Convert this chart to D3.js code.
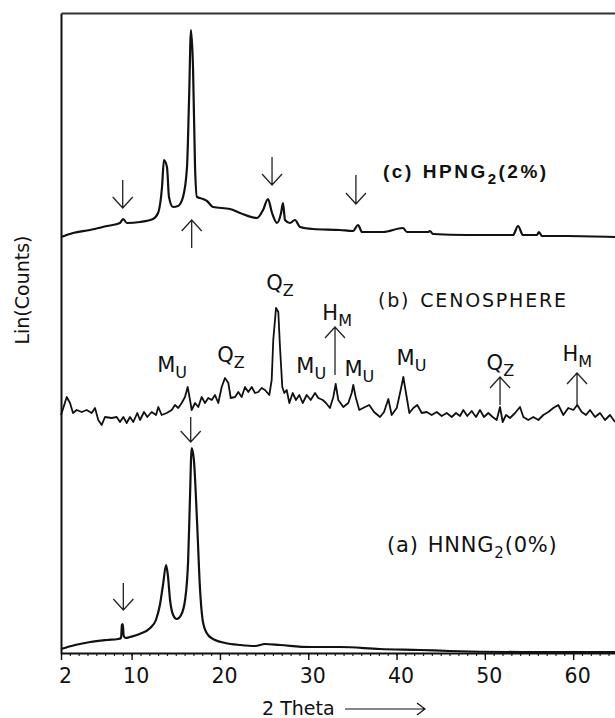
<!DOCTYPE html>
<html>
<head>
<meta charset="utf-8">
<script src="https://cdn.jsdelivr.net/npm/d3@7"></script>
<style>
  body { margin: 0; background: #fff; }
  svg { display: block; }
</style>
</head>
<body>
<div id="xrd"></div>
<script>
// 2 theta axis ticks
const majorTicks = [2, 10, 20, 30, 40, 50, 60];

// (a) HNNG2 (0%) - [2theta, counts]
const traceA = [
  [2.0, 4], [3.6, 8], [5.3, 11], [7.2, 13], [8.45, 14], [8.8, 15], [8.9, 28], [9.0, 29], [9.1, 17],
  [9.35, 15], [9.8, 16], [10.9, 19], [12.1, 25], [12.75, 33], [13.2, 48], [13.55, 68], [13.9, 88],
  [14.1, 78], [14.35, 53], [14.7, 38], [15.1, 34], [15.6, 38], [16.05, 53], [16.4, 93], [16.6, 153],
  [16.8, 205], [17.05, 193], [17.4, 133], [17.75, 63], [18.1, 30], [18.65, 18], [19.45, 13],
  [20.6, 10], [22.3, 8], [24.0, 7], [25.1, 9], [26.8, 8], [30.2, 6], [33.6, 6], [38.1, 4],
  [42.7, 3], [46.0, 2], [54, 1], [64.74, 1]
];

// (b) CENOSPHERE
const traceB = [
  [2.0, 8], [2.26, 15], [2.65, 26], [3.02, 20], [3.36, 10], [3.78, 13], [4.34, 11], [4.91, 13],
  [5.48, 10], [5.85, 15], [6.22, 3], [6.61, -2], [6.98, 6], [7.74, 5], [8.31, 6], [8.68, 1],
  [9.06, 6], [9.44, 0], [9.81, 6], [10.19, 1], [10.64, 10], [10.95, 3], [11.4, 11], [11.77, 6],
  [12.27, 11], [12.76, 8], [13.02, 16], [13.4, 8], [13.97, 10], [14.54, 13], [14.91, 18],
  [15.28, 15], [15.67, 20], [16.04, 26], [16.35, 36], [16.61, 23], [16.8, 13], [17.18, 20],
  [17.55, 16], [17.93, 26], [18.31, 20], [18.68, 25], [19.07, 23], [19.44, 28], [19.81, 20],
  [20.2, 36], [20.57, 45], [20.95, 40], [21.22, 25], [21.71, 26], [22.08, 31], [22.46, 26],
  [22.84, 36], [23.21, 31], [23.6, 36], [23.97, 30], [24.34, 31], [24.73, 35], [25.1, 33],
  [25.59, 28], [25.86, 43], [26.04, 83], [26.35, 115], [26.61, 111], [26.8, 76], [27.06, 36],
  [27.29, 30], [27.56, 33], [27.86, 20], [28.24, 30], [28.61, 23], [28.99, 28], [29.37, 20],
  [29.83, 28], [30.28, 23], [30.77, 30], [31.14, 25], [31.64, 23], [32.01, 20], [32.46, 15],
  [32.84, 26], [33.11, 39], [33.4, 23], [33.97, 16], [34.54, 20], [34.92, 30], [35.1, 38],
  [35.37, 26], [35.78, 13], [36.43, 16], [36.91, 18], [37.45, 11], [38.13, 6], [38.58, 11],
  [39.07, 24], [39.45, 8], [40.02, 15], [40.47, 33], [40.77, 46], [41.07, 30], [41.45, 10],
  [41.9, 15], [42.35, 18], [42.85, 10], [43.42, 11], [43.98, 8], [44.55, 11], [45.11, 7],
  [45.68, 10], [46.25, 6], [46.73, 10], [47.19, 7], [47.56, 13], [48.01, 7], [48.51, 12],
  [49.0, 6], [49.45, 13], [49.9, 6], [50.39, 10], [50.89, 6], [51.34, 3], [51.72, 16],
  [52.02, 1], [52.4, 8], [52.85, 5], [53.42, 10], [53.98, 16], [54.36, 6], [54.92, 3],
  [55.49, 6], [56.06, 3], [56.62, 8], [57.19, 11], [57.75, 15], [58.32, 18], [58.89, 8],
  [59.45, 15], [60.02, 13], [60.47, 18], [60.97, 11], [61.46, 8], [61.91, 13], [62.48, 6],
  [63.04, 10], [63.61, 3], [64.17, 8], [64.74, 1]
];

// (c) HPNG2 (2%)
const traceC = [
  [2.0, 6], [3.36, 10], [5.28, 13], [7.21, 17], [8.68, 20], [9.02, 24], [9.47, 20], [10.95, 21],
  [12.42, 24], [12.99, 30], [13.44, 56], [13.66, 83], [14.0, 76], [14.23, 46], [14.68, 36],
  [15.25, 37], [15.82, 46], [16.27, 76], [16.5, 143], [16.72, 213], [16.95, 176], [17.18, 76],
  [17.4, 46], [18.08, 44], [18.53, 42], [19.21, 36], [21.14, 34], [22.27, 30], [24.2, 25],
  [24.88, 33], [25.44, 44], [25.9, 30], [26.46, 20], [26.92, 30], [27.14, 40], [27.37, 23],
  [27.93, 20], [28.5, 23], [29.07, 16], [30.54, 14], [33.6, 13], [35.07, 12], [35.64, 18],
  [36.09, 11], [38.47, 11], [40.73, 15], [41.18, 11], [43.56, 11], [43.79, 12], [44.13, 9],
  [47.98, 8], [53.19, 8], [53.76, 17], [54.32, 8], [55.9, 8], [56.13, 11], [56.47, 7],
  [59.3, 7], [64.74, 6]
];

// vertical offset of each pattern (stacked plot)
const traceOffsets = [0, 230, 410];

// marker arrows: [2theta, tail counts, tip counts] (absolute, after offset)
const arrows = [
  [8.99, 473, 445], [16.8, 405, 433], [25.9, 496, 468], [35.4, 478, 449],
  [33.03, 278, 326], [51.72, 248, 276], [60.44, 248, 280],
  [16.69, 236, 211], [9.06, 70, 43]
];

// phase labels: [main, subscript, 2theta, counts]
const phaseLabels = [
  ["M", "U", 12.9, 281], ["Q", "Z", 19.7, 291], ["Q", "Z", 25.25, 363],
  ["H", "M", 31.6, 333], ["M", "U", 28.65, 280], ["M", "U", 34.1, 277],
  ["M", "U", 40.0, 288], ["Q", "Z", 50.2, 283], ["H", "M", 58.8, 292]
];

const W = 615, H = 718;
const margin = {top: 13, right: 0, bottom: 65, left: 61};

const svg = d3.select("#xrd").append("svg")
  .attr("width", W).attr("height", H)
  .style("font-family", "'DejaVu Sans', Verdana, sans-serif");

const x = d3.scaleLinear().domain([2, 64.74]).range([margin.left, W - margin.right]);
const y = d3.scaleLinear().domain([0, 640]).range([H - margin.bottom, margin.top]);

// minor ticks every degree
const minor = d3.range(2, 65, 1);
svg.append("g")
  .attr("transform", "translate(0," + (H - margin.bottom) + ")")
  .call(d3.axisBottom(x).tickValues(minor).tickSize(3).tickFormat("").tickSizeOuter(0))
  .call(g => g.select(".domain").remove())
  .selectAll("line").attr("stroke", "#222").attr("stroke-width", 1.2);

// major ticks
const xAxis = svg.append("g")
  .attr("transform", "translate(0," + (H - margin.bottom) + ")")
  .call(d3.axisBottom(x).tickValues(majorTicks).tickSize(7).tickSizeOuter(0).tickPadding(8));
xAxis.select(".domain").attr("stroke", "#111").attr("stroke-width", 2.2);
xAxis.selectAll("line").attr("stroke", "#111").attr("stroke-width", 1.4);
xAxis.selectAll("text")
  .attr("dx", 4)
  .style("font-size", "20.5px")
  .style("font-family", "'DejaVu Sans', Verdana, sans-serif")
  .attr("fill", "#111");

// left axis line and top frame
svg.append("g")
  .attr("transform", "translate(" + margin.left + ",0)")
  .call(d3.axisLeft(y).tickValues([]).tickSizeOuter(0))
  .select(".domain").attr("stroke", "#111").attr("stroke-width", 2);
svg.append("g")
  .attr("transform", "translate(0," + margin.top + ")")
  .call(d3.axisTop(x).tickValues([]).tickSizeOuter(0))
  .select(".domain").attr("stroke", "#333").attr("stroke-width", 2);

// axis titles
svg.append("text")
  .attr("transform", "translate(29,290) rotate(-90)")
  .attr("text-anchor", "middle")
  .style("font-size", "19px")
  .attr("fill", "#111")
  .text("Lin(Counts)");

svg.append("text")
  .attr("x", 262).attr("y", 715)
  .style("font-size", "19px")
  .attr("fill", "#111")
  .text("2 Theta");
svg.append("path")
  .attr("d", "M345,709H425M417,703L425,709L417,715")
  .attr("fill", "none").attr("stroke", "#111").attr("stroke-width", 1.2);

// patterns
const traces = [traceA, traceB, traceC];
const widths = [2.2, 1.8, 2.2];
traces.forEach(function(tr, i) {
  const off = traceOffsets[i];
  const line = d3.line()
    .x(d => x(d[0]))
    .y(d => y(d[1] + off))
    .curve(i === 1 ? d3.curveLinear : d3.curveMonotoneX);
  svg.append("path")
    .datum(tr)
    .attr("d", line)
    .attr("fill", "none")
    .attr("stroke", "#111")
    .attr("stroke-width", widths[i])
    .attr("stroke-linejoin", "round");
});

// arrows
arrows.forEach(function(a) {
  const ax = x(a[0]), y0 = y(a[1]), y1 = y(a[2]);
  const dir = y1 > y0 ? -1 : 1;   // head opens back towards the tail
  svg.append("path")
    .attr("d", "M" + ax + "," + y0 + "V" + y1 +
      "M" + (ax - 10) + "," + (y1 + dir * 11) + "L" + ax + "," + y1 + "L" + (ax + 10) + "," + (y1 + dir * 11))
    .attr("fill", "none")
    .attr("stroke", "#222")
    .attr("stroke-width", 1.3);
});

// phase labels
phaseLabels.forEach(function(p) {
  const t = svg.append("text")
    .attr("x", x(p[2])).attr("y", y(p[3]))
    .attr("fill", "#111")
    .style("font-size", "21px");
  t.append("tspan").text(p[0]);
  t.append("tspan").attr("dy", 6).style("font-size", "16px").text(p[1]);
});

// sample labels
const lc = svg.append("text")
  .attr("x", x(38.47)).attr("y", y(475))
  .attr("fill", "#111")
  .style("font-family", "'Liberation Sans', Arial, sans-serif")
  .style("font-weight", "bold")
  .style("font-size", "19px")
  .style("letter-spacing", "2.5px");
lc.append("tspan").text("(c)");
lc.append("tspan").attr("dx", 9).text("HPNG");
lc.append("tspan").attr("dy", 6).style("font-size", "15px").text("2");
lc.append("tspan").attr("dy", -6).text("(2%)");

const lb = svg.append("text")
  .attr("x", x(37.9)).attr("y", y(346))
  .attr("fill", "#111")
  .style("font-size", "19px")
  .style("letter-spacing", "1.8px");
lb.append("tspan").text("(b)");
lb.append("tspan").attr("dx", 10).text("CENOSPHERE");

const la = svg.append("text")
  .attr("x", x(38.92)).attr("y", y(101))
  .attr("fill", "#111")
  .style("font-size", "21px")
  .style("letter-spacing", "0.8px");
la.append("tspan").text("(a)");
la.append("tspan").attr("dx", 9).text("HNNG");
la.append("tspan").attr("dy", 6).style("font-size", "15px").text("2");
la.append("tspan").attr("dy", -6).text("(0%)");
</script>
</body>
</html>
